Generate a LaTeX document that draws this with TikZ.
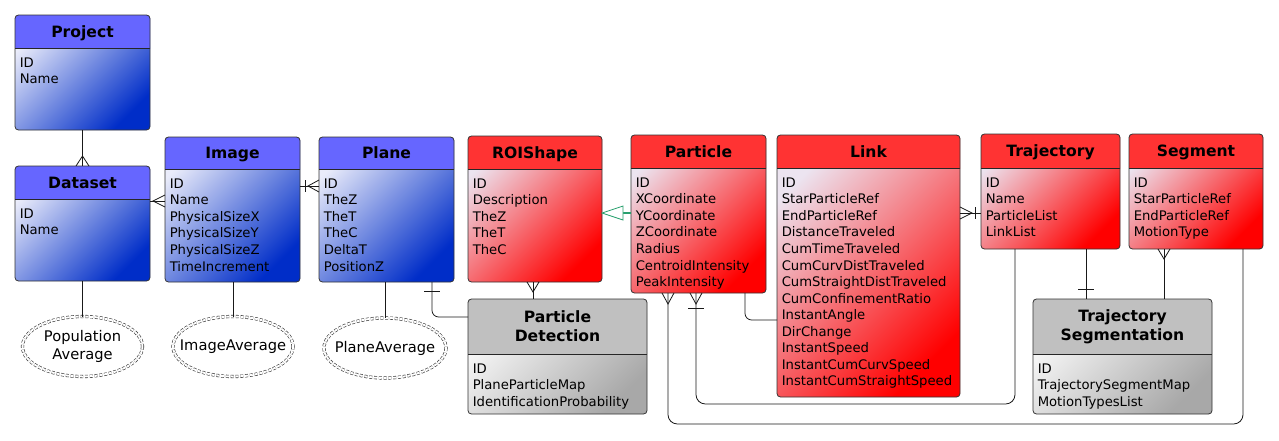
\documentclass[tikz,border=0pt]{standalone}
\usepackage{fontspec}
\setmainfont{DejaVu Sans}
\usetikzlibrary{calc,shapes.geometric}
\definecolor{bluehead}{RGB}{102,102,255}
\definecolor{bluelt}{RGB}{234,236,250}
\definecolor{bluedk}{RGB}{0,45,200}
\definecolor{redhead}{RGB}{255,51,51}
\definecolor{redlt}{RGB}{236,228,240}
\definecolor{reddk}{RGB}{255,0,0}
\definecolor{grayhead}{RGB}{192,192,192}
\definecolor{graylt}{RGB}{252,252,252}
\definecolor{graydk}{RGB}{168,168,168}
\definecolor{inhgreen}{RGB}{40,160,110}
\tikzset{
  entframe/.style={draw=black!80, line width=0.6pt, rounded corners=2.6pt, inner sep=0pt, outer sep=0pt},
  entline/.style={draw=black!85, line width=0.6pt},
  ttlbase/.style={font=\bfseries\fontsize{11.7}{14.5}\selectfont, inner sep=0pt, align=center},
  bluettl/.style={ttlbase, text height=8.5pt, text depth=0pt},
  redttl/.style={ttlbase, text height=8.5pt, text depth=0pt},
  grayttl/.style={ttlbase},
  bluebody/.style={top color=bluelt, bottom color=bluedk, shading angle=45},
  redbody/.style={top color=redlt, bottom color=reddk, shading angle=45},
  graybody/.style={top color=graylt, bottom color=graydk, shading angle=45},
  fields/.style={font=\fontsize{9.9}{12.4}\selectfont, align=left, inner sep=0pt, anchor=north west},
  conn/.style={draw=black!90, line width=0.6pt},
  attrline/.style={draw=black!80, double=white, double distance=1.5pt, dash pattern=on 2.2pt off 1.4pt, line width=0.45pt, fill=white},
  attrtext/.style={inner sep=0pt, font=\fontsize{11}{14}\selectfont, align=center},
}
% #1 name #2 x #3 y #4 w #5 h #6 header h #7 scheme #8 title #9 fields
\newcommand{\erent}[9]{%
  \shade[#7body, rounded corners=2.6pt] (#2,#3) rectangle ++(#4,#5);
  \begin{scope}
    \clip (#2,#3) rectangle ++(#4,#6);
    \fill[#7head, rounded corners=2.6pt] (#2,#3) rectangle ++(#4,#5);
  \end{scope}
  \draw[entline] (#2,#3+#6) -- ++(#4,0);
  \node[entframe, minimum width=#4*0.75pt, minimum height=#5*0.75pt, anchor=north west] (#1) at (#2,#3) {};
  \node[#7ttl] (#1-title) at (#2+#4/2,#3+#6/2) {#8};
  \node[fields] (#1-fields) at (#2+4.5,#3+#6+9.5) {#9};
}
% #1 name #2 x #3 y #4 rx #5 ry #6 text
\newcommand{\erattr}[6]{%
  \draw[attrline] (#2,#3) ellipse [x radius=#4, y radius=#5];
  \node[attrtext] (#1) at (#2,#3) {#6};
  \coordinate (#1-top) at (#2,#3-#5);
}
\begin{document}
\begin{tikzpicture}[x=0.75pt,y=-0.75pt]
\fill[white] (0,0) rectangle (1279,440);
\useasboundingbox (0,0) rectangle (1279,440);

\erent{proj}{15}{15}{135}{115}{33}{blue}{Project}{ID\\Name}
\erent{ds}{15}{166}{135}{115}{33}{blue}{Dataset}{ID\\Name}
\erent{img}{165}{137}{135}{145}{32}{blue}{Image}{ID\\Name\\PhysicalSizeX\\PhysicalSizeY\\PhysicalSizeZ\\TimeIncrement}
\erent{plane}{319}{137}{135}{145}{32}{blue}{Plane}{ID\\TheZ\\TheT\\TheC\\DeltaT\\PositionZ}
\erent{roi}{468}{136}{134}{146}{33}{red}{ROIShape}{ID\\Description\\TheZ\\TheT\\TheC}
\erent{part}{631}{135}{135}{158}{33}{red}{Particle}{ID\\XCoordinate\\YCoordinate\\ZCoordinate\\Radius\\CentroidIntensity\\PeakIntensity}
\erent{link}{777}{135}{183}{262}{33}{red}{Link}{ID\\StarParticleRef\\EndParticleRef\\DistanceTraveled\\CumTimeTraveled\\CumCurvDistTraveled\\CumStraightDistTraveled\\CumConfinementRatio\\InstantAngle\\DirChange\\InstantSpeed\\InstantCumCurvSpeed\\InstantCumStraightSpeed}
\erent{traj}{981}{134}{139}{115}{34}{red}{Trajectory}{ID\\Name\\ParticleList\\LinkList}
\erent{seg}{1129}{134}{134}{115}{34}{red}{Segment}{ID\\StarParticleRef\\EndParticleRef\\MotionType}
\erent{pd}{468}{299}{179}{115}{55}{gray}{Particle\\Detection}{ID\\PlaneParticleMap\\IdentificationProbability}
\erent{ts}{1033}{299}{179}{115}{55}{gray}{Trajectory\\Segmentation}{ID\\TrajectorySegmentMap\\MotionTypesList}

\erattr{popavg}{82.5}{346.5}{60}{30}{Population\\Average}
\erattr{imgavg}{233}{346.5}{60}{30}{ImageAverage}
\erattr{planeavg}{385}{348}{61}{30}{PlaneAverage}

% attributes
\draw[conn] (popavg-top) -- (popavg-top |- ds.south);
\draw[conn] (imgavg-top) -- (imgavg-top |- img.south);
\draw[conn] (planeavg-top) -- (planeavg-top |- plane.south);

% Project - Dataset
\draw[conn] (proj.south) -- (ds.north);
\draw[conn] ($(ds.north)+(-6.5,0)$) -- ($(ds.north)+(0,-10)$) -- ($(ds.north)+(6.5,0)$);

% Dataset - Image
\draw[conn] ($(ds.north east)+(0,35)$) -- ($(img.north west)+(0,64)$);
\draw[conn] ($(img.north west)+(0,58)$) -- ($(img.north west)+(-12,64)$) -- ($(img.north west)+(0,70)$);

% Image - Plane
\draw[conn] ($(img.north east)+(0,49)$) -- ($(plane.north west)+(0,49)$);
\draw[conn] ($(img.north east)+(5,43)$) -- ($(img.north east)+(5,55)$);
\draw[conn] ($(plane.north west)+(0,43)$) -- ($(plane.north west)+(-11,49)$) -- ($(plane.north west)+(0,55)$);

% ROIShape <- Particle (inheritance)
\draw[inhgreen, line width=1.6pt] ($(part.north west)+(0,78)$) -- ($(roi.north east)+(21,77)$);
\draw[inhgreen, line width=0.6pt, fill=white] ($(roi.north east)+(0,77)$) -- ++(21,-7) -- ++(0,14) -- cycle;

% ROIShape - Particle Detection
\draw[conn] ($(roi.south west)+(65,0)$) -- ($(pd.north west)+(65,0)$);
\draw[conn] ($(roi.south west)+(59,0)$) -- ($(roi.south west)+(65,10)$) -- ($(roi.south west)+(71,0)$);

% Plane - Particle Detection
\draw[conn, rounded corners=5pt] ($(plane.south west)+(113,0)$) |- ($(pd.north west)+(0,18)$);
\draw[conn] ($(plane.south west)+(105,9)$) -- ($(plane.south west)+(121,9)$);

% Particle - Link
\draw[conn, rounded corners=5pt] ($(part.south west)+(114,0)$) |- ($(link.north west)+(0,185)$);

% Particle - Segment
\draw[conn, rounded corners=7pt] ($(part.south west)+(37,0)$) -- ++(0,131) -| ($(seg.south west)+(114,0)$);
\draw[conn] ($(part.south west)+(31,0)$) -- ($(part.south west)+(37,11)$) -- ($(part.south west)+(43,0)$);

% Particle - Trajectory
\draw[conn, rounded corners=7pt] ($(part.south west)+(65,0)$) -- ++(0,111) -| ($(traj.south west)+(34,0)$);
\draw[conn] ($(part.south west)+(59,0)$) -- ($(part.south west)+(65,11)$) -- ($(part.south west)+(71,0)$);
\draw[conn] ($(part.south west)+(57,15)$) -- ($(part.south west)+(73,15)$);

% Link - Trajectory
\draw[conn] ($(link.north east)+(0,78)$) -- ($(traj.north west)+(0,79)$);
\draw[conn] ($(link.north east)+(0,72)$) -- ($(link.north east)+(12,78)$) -- ($(link.north east)+(0,84)$);
\draw[conn] ($(link.north east)+(15,72)$) -- ($(link.north east)+(15,84)$);

% Trajectory - Trajectory Segmentation
\draw[conn] ($(traj.south west)+(105,0)$) -- ($(ts.north west)+(53,0)$);
\draw[conn] ($(traj.south west)+(97,40)$) -- ($(traj.south west)+(113,40)$);

% Segment - Trajectory Segmentation
\draw[conn] ($(seg.south west)+(35,0)$) -- ($(ts.north west)+(131,0)$);
\draw[conn] ($(seg.south west)+(29,0)$) -- ($(seg.south west)+(35,10)$) -- ($(seg.south west)+(41,0)$);
\end{tikzpicture}
\end{document}
